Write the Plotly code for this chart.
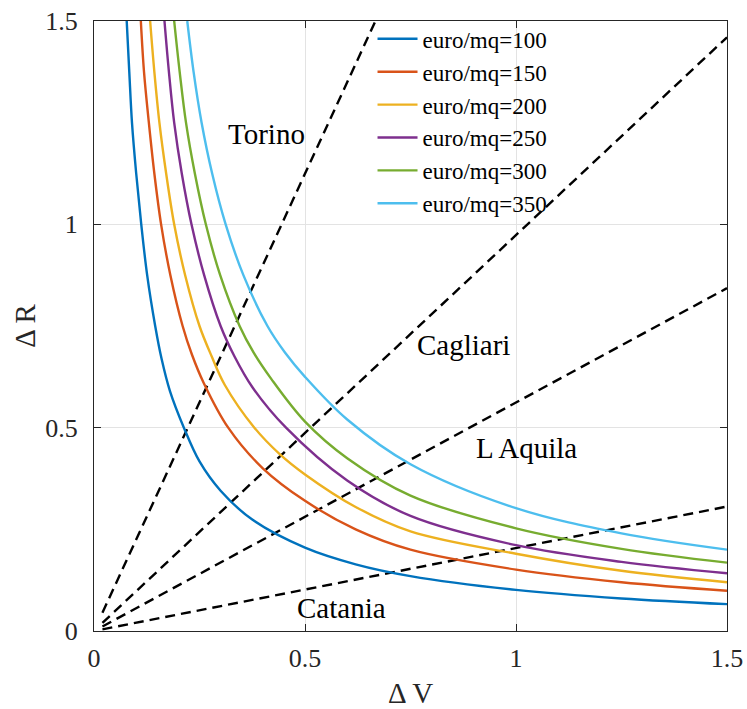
import plotly.graph_objects as go

# ---- data ----
series_names = ["euro/mq=100", "euro/mq=150", "euro/mq=200",
                "euro/mq=250", "euro/mq=300", "euro/mq=350"]

v_100 = [0.0775, 0.0836, 0.090, 0.100, 0.112, 0.126, 0.145, 0.160, 0.180, 0.213, 0.250, 0.300, 0.375, 0.50, 0.62, 0.75, 1.00, 1.25, 1.50]
r_100 = [1.50, 1.375, 1.25, 1.125, 1.00, 0.875, 0.75, 0.67, 0.59, 0.50, 0.417, 0.345, 0.274, 0.205, 0.164, 0.135, 0.101, 0.080, 0.066]

v_150 = [0.111, 0.1185, 0.130, 0.143, 0.159, 0.181, 0.210, 0.232, 0.260, 0.318, 0.400, 0.50, 0.62, 0.75, 1.00, 1.25, 1.50]
r_150 = [1.50, 1.375, 1.25, 1.125, 1.00, 0.875, 0.75, 0.68, 0.610, 0.50, 0.400, 0.320, 0.250, 0.200, 0.151, 0.120, 0.099]

v_200 = [0.133, 0.143, 0.155, 0.171, 0.190, 0.216, 0.250, 0.279, 0.310, 0.380, 0.440, 0.50, 0.62, 0.75, 1.00, 1.25, 1.50]
r_200 = [1.50, 1.375, 1.25, 1.125, 1.00, 0.875, 0.75, 0.675, 0.605, 0.50, 0.435, 0.385, 0.305, 0.245, 0.190, 0.148, 0.120]

v_250 = [0.167, 0.1775, 0.190, 0.208, 0.231, 0.261, 0.300, 0.333, 0.375, 0.455, 0.60, 0.75, 1.00, 1.25, 1.50]
r_250 = [1.50, 1.375, 1.25, 1.125, 1.00, 0.875, 0.75, 0.675, 0.600, 0.50, 0.370, 0.283, 0.211, 0.170, 0.142]

v_300 = [0.190, 0.203, 0.218, 0.239, 0.265, 0.299, 0.345, 0.378, 0.420, 0.50, 0.60, 0.75, 1.00, 1.25, 1.50]
r_300 = [1.50, 1.375, 1.25, 1.125, 1.00, 0.875, 0.75, 0.685, 0.620, 0.515, 0.425, 0.333, 0.2525, 0.202, 0.168]

v_350 = [0.221, 0.236, 0.255, 0.280, 0.312, 0.354, 0.411, 0.4525, 0.50, 0.60, 0.75, 1.00, 1.25, 1.50]
r_350 = [1.50, 1.375, 1.25, 1.125, 1.00, 0.875, 0.75, 0.685, 0.625, 0.520, 0.410, 0.302, 0.240, 0.200]

series_v = [v_100, v_150, v_200, v_250, v_300, v_350]
series_r = [r_100, r_150, r_200, r_250, r_300, r_350]
colors = ["#0072BD", "#D95319", "#EDB120", "#7E2F8E", "#77AC30", "#4DBEEE"]

# city lines (start and end points)
city_names = ["Torino", "Cagliari", "L Aquila", "Catania"]
city_v = [[0.02, 0.667], [0.02, 1.50], [0.02, 1.50], [0.02, 1.50]]
city_r = [[0.045, 1.50], [0.020, 1.46], [0.011, 0.843], [0.004, 0.306]]
label_v = [0.408, 0.876, 1.025, 0.586]
label_r = [1.222, 0.703, 0.450, 0.0565]

tick_vals = [0, 0.5, 1, 1.5]
tick_text = ["0", "0.5", "1", "1.5"]

FONT = "Liberation Serif, Times New Roman, serif"
AX = "#262626"

fig = go.Figure()

for v, r in zip(city_v, city_r):
    fig.add_trace(go.Scatter(x=v, y=r, mode="lines", showlegend=False,
                             line=dict(color="black", width=2.4, dash="10px,6px"),
                             hoverinfo="skip"))

for name, v, r, c in zip(series_names, series_v, series_r, colors):
    fig.add_trace(go.Scatter(x=v, y=r, mode="lines", name=name,
                             line=dict(color=c, width=2.4, shape="spline", smoothing=1.0)))

for name, lv, lr in zip(city_names, label_v, label_r):
    fig.add_annotation(x=lv, y=lr, text=name, showarrow=False,
                       font=dict(family=FONT, size=29, color="black"),
                       xanchor="center", yanchor="middle")

axis_common = dict(
    range=[0, 1.5], tickvals=tick_vals, ticktext=tick_text,
    showgrid=True, gridcolor="#E3E3E3", gridwidth=1,
    zeroline=False, showline=True, linecolor=AX, linewidth=1,
    mirror="ticks", ticks="inside", ticklen=7, tickcolor=AX, tickwidth=1,
    tickfont=dict(family=FONT, size=26, color=AX), automargin=False,
)

fig.update_xaxes(**axis_common, ticklabelstandoff=4,
                 title=dict(text="Δ V", font=dict(family=FONT, size=29, color=AX), standoff=10))
fig.update_yaxes(**axis_common, ticklabelstandoff=10,
                 title=dict(text="Δ R", font=dict(family=FONT, size=29, color=AX), standoff=1))

fig.update_layout(
    width=747, height=709,
    margin=dict(l=94, r=20, t=21, b=78),
    paper_bgcolor="white", plot_bgcolor="white",
    legend=dict(x=0.44, y=1.006, xanchor="left", yanchor="top",
                bgcolor="rgba(0,0,0,0)", borderwidth=0,
                font=dict(family=FONT, size=23, color="black"),
                tracegroupgap=0, itemwidth=40),
    showlegend=True,
)

fig.write_html("out.html", config={"displayModeBar": False},
               post_script="document.body.style.margin='0';document.body.style.padding='0';")
